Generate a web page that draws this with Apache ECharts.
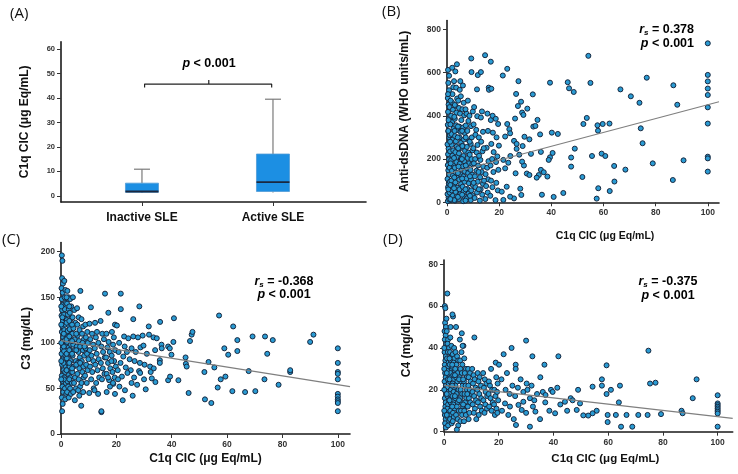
<!DOCTYPE html>
<html>
<head>
<meta charset="utf-8" />
<title>C1q CIC and SLE markers</title>
<script src="https://cdn.jsdelivr.net/npm/echarts@6/dist/echarts.min.js"></script>
<style>
html, body { width:100%; height:100%; margin:0; background:#fff; }
#main { width:738px; height:474px; }
</style>
</head>
<body>
<div id="main"></div>
<script>
// ---- panel A : box plot ----
var groups = ['Inactive SLE', 'Active SLE'];
// [position, low whisker, Q1, median, Q3, high whisker]
var boxStats = [[1, 1.2, 1.5, 1.8, 5.2, 10.9], [2, 1.4, 1.8, 5.6, 17.1, 39.5]];
var bracket = [[1.02, 44.3], [1.02, 45.7], [1.99, 45.7], [1.99, 44.3]];
var bracketTip = [[1.51, 45.7], [1.51, 47.3]];

// tick labels
var ticksA = [0, 10, 20, 30, 40, 50, 60];
var ticksCic = [0, 20, 40, 60, 80, 100];
var ticksDna = [0, 200, 400, 600, 800];
var ticksC3 = [0, 50, 100, 150, 200];
var ticksC4 = [0, 20, 40, 60, 80];

// ---- panel B : anti-dsDNA vs C1q CIC ----
var dnaCore = [
  [0.3,5],[0.6,22],[0.2,38],[0.8,52],[0.4,70],[0.7,88],[0.2,108],[0.9,128],[0.5,148],[0.3,172],[0.8,198],[0.4,222],[0.6,248],[0.2,268],[0.9,298],[0.5,328],[0.3,358],[0.7,388],[0.4,418],[0.6,452],[0.3,482],[0.8,518],[0.5,552],[0.4,612],[0.9,12],[1.0,45],[1.1,95],[1.0,160],[1.2,235],[1.1,310],[1.0,440],
  [1.6,10],[2.2,30],[1.8,55],[2.4,76],[1.7,100],[2.3,124],[1.9,146],[2.5,170],[1.6,194],[2.1,216],[2.4,240],[1.8,266],[2.2,290],[1.7,316],[2.5,340],[2.0,372],[1.6,400],[2.3,428],[1.9,462],[2.1,500],[2.4,532],[2.0,622],
  [3.1,8],[3.7,28],[3.3,48],[3.9,68],[3.2,92],[3.8,114],[3.4,138],[3.0,160],[3.6,186],[3.9,210],[3.2,232],[3.7,258],[3.4,282],[3.1,306],[3.8,334],[3.5,356],[3.0,386],[3.6,414],[3.3,446],[3.9,480],[3.5,530],[3.2,605],[3.8,638],
  [4.6,15],[5.2,40],[4.8,60],[5.4,85],[4.7,105],[5.1,130],[5.5,155],[4.9,178],[5.3,200],[4.6,226],[5.0,250],[5.4,276],[4.8,300],[5.2,326],[4.7,350],[5.5,380],[5.0,410],[4.6,436],[5.3,490],[4.9,520],[5.1,560],
  [6.2,5],[6.8,25],[6.4,50],[6.0,72],[6.7,95],[6.3,120],[6.9,142],[6.1,166],[6.6,190],[6.3,214],[6.9,238],[6.0,262],[6.5,290],[6.8,320],[6.2,346],[6.6,402],[6.4,460],[6.1,540],
  [7.6,18],[8.3,40],[7.8,62],[8.4,88],[7.5,110],[8.1,135],[7.7,158],[8.5,180],[7.9,205],[8.2,230],[7.6,256],[8.4,286],[7.8,330],[8.2,376],[7.5,410],[8.0,470],
  [9.1,10],[9.8,32],[9.3,55],[9.9,80],[9.2,105],[9.6,128],[9.0,150],[9.7,176],[9.4,200],[9.8,240],[9.1,270],[9.5,300],[9.2,352],[9.9,420],[9.4,602],[9.3,665],
  [10.6,20],[11.5,45],[10.9,70],[11.8,95],[10.7,120],[11.3,146],[11.9,170],[10.8,200],[11.4,230],[11.7,265],[10.9,312],[11.2,335],[11.6,398],[11.5,522],[11.8,588],
  [12.6,8],[13.5,35],[12.9,60],[13.8,85],[12.7,116],[13.3,140],[13.9,165],[12.8,196],[13.6,236],[13.1,280],[13.8,326],[13.0,392],[13.4,420],[13.0,602],[14.6,680],
  [14.7,15],[15.6,45],[15.0,75],[15.8,106],[14.8,130],[15.4,160],[15.9,190],[15.2,252],[15.7,330],[15.5,410],[16.0,530],[16.8,650],
  [16.6,30],[17.4,70],[16.9,100],[17.8,140],[16.7,170],[17.3,200],[17.9,232],[17.0,270],[17.6,322],[16.8,380],[17.5,400],[16.1,520],[17.0,525],
  [18.6,10],[19.5,55],[18.9,90],[19.7,150],[18.8,186],[19.3,212],[19.9,262],[19.0,300],[19.6,362],[18.7,386],
  [0.5,60],[1.3,80],[2.8,115],[4.2,135],[1.4,180],[2.7,205],[4.3,250],[1.2,280],[2.9,330],[4.1,300],[5.8,110],[5.7,200],[7.1,60],[7.2,170],[8.8,120],[8.7,220],[10.2,90],[10.3,180],[12.2,60],[12.1,140],[2.8,10],[4.2,25],[5.8,35],[7.1,8],[1.3,15],[2.7,65],[4.4,165],[5.9,260],[7.2,300],[0.5,330],[8.8,30],[10.1,250],[12.3,215],[14.2,100],[14.1,250],[0.6,380],[1.3,360],[2.8,395],[4.2,350],[5.8,330],[7.2,355],[8.7,280],[10.2,360],[12.2,300],[3.0,450],[1.4,470],[0.4,500],[4.3,470],[2.7,560],[0.8,585],[5.9,430],[7.1,430],[8.6,400],[10.4,440]
];
var dnaSpread = [
  [21.4,586],[23.1,617],[27.4,560],[26.5,501],[28.4,465],[27.2,445],[30.8,433],[32.9,499],[28.8,415],[29.3,404],[26.1,387],[23.1,362],[23.9,338],[24.2,319],[22.3,304],[33.1,350],[33.9,353],[34.7,381],[40.2,322],[42.5,316],[35.7,314],[31.6,291],[29.7,303],[25.7,284],[26.7,270],[29.0,260],[32.2,224],[36.0,233],[40.5,228],[39.5,208],[39.0,196],[47.6,207],[47.6,165],[49.0,248],[29.5,170],[28.8,188],[27.7,220],[26.7,247],[24.3,214],[23.5,183],[21.6,196],[22.3,157],[26.3,134],[30.6,133],[31.6,126],[35.2,126],[36.0,150],[34.4,114],[38.5,119],[37.1,139],[28.1,63],[28.5,34],[25.7,18],[36.4,35],[40.9,25],[44.6,43],[22.9,72],[21.0,49],[24.2,26],[21.6,11],
  [46.3,555],[46.8,527],[48.6,510],[54.2,677],[55.0,552],[39.5,553],[66.5,522],[70.5,490],[76.6,576],[86.8,541],[73.8,460],[88.3,451],[52.3,362],[53.6,390],[57.7,356],[57.9,331],[59.7,362],[62.3,364],[55.6,214],[59.3,225],[60.7,214],[64.1,168],[64.2,96],[68.4,151],[74.3,342],[75.0,273],[78.9,180],[86.6,103],[90.7,194],[51.9,117],[58.0,65],[57.4,17],[62.4,52],
  [100,735],[100,589],[100,559],[100,526],[100,496],[100,439],[100,364],[100,211],[100,203],[100,142]
];
var dnaFit = [[0, 131], [104.3, 465]];

// ---- panel C : C3 vs C1q CIC ----
var c3Core = [
  [0.3,196],[0.5,190],[0.4,171],[0.7,165],[0.2,160],[0.6,155],[0.3,148],[0.8,142],[0.4,136],[0.2,130],[0.7,124],[0.5,118],[0.3,112],[0.8,106],[0.4,100],[0.6,94],[0.2,88],[0.7,82],[0.4,76],[0.9,70],[0.3,64],[0.6,58],[0.5,52],[0.8,46],[0.3,40],[0.6,33],[0.4,25],
  [1.2,168],[1.6,158],[1.3,150],[1.8,144],[1.4,137],[1.1,131],[1.7,126],[1.5,120],[1.2,114],[1.9,109],[1.4,103],[1.7,97],[1.1,91],[1.6,86],[1.3,80],[1.8,74],[1.5,68],[1.2,62],[1.7,56],[1.4,50],[1.9,44],[1.5,38],
  [2.3,157],[2.7,150],[2.2,143],[2.8,137],[2.5,131],[2.1,125],[2.9,119],[2.4,113],[2.6,107],[2.2,101],[2.8,95],[2.5,89],[2.1,83],[2.7,77],[2.4,71],[2.9,65],[2.3,58],[2.6,52],[2.2,46],[2.8,40],
  [3.3,148],[3.7,140],[3.2,133],[3.8,127],[3.5,121],[3.1,115],[3.9,110],[3.4,104],[3.6,98],[3.2,92],[3.8,86],[3.5,80],[3.1,74],[3.7,68],[3.4,62],[3.9,56],[3.3,50],[3.6,44],
  [4.3,150],[4.8,136],[4.2,128],[5.2,122],[4.5,116],[4.1,110],[5.0,104],[4.4,98],[4.9,92],[4.2,86],[5.3,80],[4.6,74],[4.1,68],[5.1,62],[4.7,56],[5.4,50],[4.4,46],[5.0,37],
  [5.8,138],[6.4,128],[5.9,120],[6.7,114],[6.0,108],[6.5,102],[5.7,96],[6.3,90],[6.8,84],[6.1,78],[6.6,72],[5.9,66],[6.4,60],[6.9,52],[6.2,48],[7.0,157],[6.6,42],
  [7.4,126],[8.0,118],[7.6,110],[8.3,104],[7.3,98],[7.9,92],[8.4,86],[7.5,80],[8.1,74],[7.7,68],[8.2,62],[7.4,56],[8.0,46],[7.3,31],
  [8.8,120],[9.5,112],[9.0,106],[9.7,100],[8.9,94],[9.4,88],[9.9,82],[9.1,76],[9.6,70],[8.7,64],[9.3,56],
  [10.3,121],[10.8,139],[11.2,110],[10.6,104],[11.6,98],[10.4,92],[11.0,86],[11.7,80],[10.5,74],[11.3,68],[10.9,60],[11.8,50],[10.2,45],
  [12.3,122],[13.0,112],[12.6,106],[13.5,100],[12.2,94],[12.9,88],[13.6,82],[12.4,76],[13.2,70],[13.8,62],[12.7,56],[13.4,44],[12.1,48],
  [14.3,124],[14.9,110],[15.5,104],[14.6,96],[15.2,90],[15.8,84],[14.4,78],[15.1,72],[15.7,66],[14.8,60],[14.6,24],
  [16.4,110],[17.2,101],[16.8,95],[17.6,90],[16.3,84],[17.0,78],[17.8,72],[16.5,66],[17.4,59],[18.4,112],[19.1,106],[18.8,98],[19.6,92],[18.3,86],[19.2,80],[19.8,74],[18.6,68],[19.4,62],[18.9,55],[19.5,120],
  [0.5,128],[1.0,110],[1.0,96],[0.9,78],[1.0,60],[2.0,150],[2.0,122],[2.0,104],[2.0,88],[2.0,70],[3.0,140],[3.0,124],[3.0,107],[3.0,92],[3.0,78],[3.0,60],[4.0,120],[4.0,102],[4.0,88],[4.0,72],[5.5,110],[5.5,92],[5.5,76],[6.9,96],[6.9,78],[7.8,100],[8.5,96],[0.1,120],[0.1,100],[0.1,80],[0.1,140],[0.1,60]
];
var c3Spread = [
  [15.9,154],[21.6,154],[21.6,137],[17.1,133],[28.3,140],[26.1,126],[31.7,118],[35.8,123],[20.2,119],[22.8,107],[24.3,105],[26.1,107],[27.8,106],[29.5,108],[31.8,109],[33.4,106],[34.6,105],[28.7,95],[29.8,97],[21.0,100],[23.0,96],[25.5,94],[27.0,90],[20.8,90],[22.5,85],[24.8,82],[26.6,80],[28.5,78],[30.2,76],[32.2,74],[33.5,72],[21.5,78],[23.4,73],[25.2,70],[28.2,69],[28.6,67],[24.0,67],[22.0,63],[20.6,60],[26.4,62],[32.4,68],[32.8,61],[34.1,57],[30.6,49],[25.5,56],[23.1,48],[21.1,52],[17.7,52],[18.8,56],[25.9,42],[22.3,37],[14.6,25],[16.5,46],[19.5,44],[27.5,54],[30.0,60],[20.5,70],[17.0,62],[18.2,80],[23.8,90],[31.0,88],[34.0,92],[35.7,81],[35.7,78],
  [36.3,98],[36.4,94],[38.7,96],[39.3,94],[39.9,87],[40.6,101],[40.8,127],[38.7,59],[39.4,63],[42.4,59],[45.0,84],[45.1,77],[45.4,74],[46.1,45],[46.6,102],[47.2,109],[47.5,112],[51.8,68],[52.0,38],[53.3,79],[54.3,34],[55.4,73],[56.6,51],[57.1,130],[57.7,60],[59.0,94],[59.4,63],[60.4,87],[61.9,47],[62.2,118],[63.7,103],[63.7,91],[66.5,46],[67.8,69],[69.2,107],[70.2,47],[73.5,60],[73.7,107],[74.5,88],[76.5,103],[78.6,54],[82.8,68],[82.8,70],[90.0,101],[91.2,109],
  [100,94],[100,78],[100,68],[100,66],[100,60],[100,44],[100,41],[100,38],[100,36],[100,34],[100,25]
];
var c3Fit = [[0, 102.5], [104.4, 51.9]];

// ---- panel D : C4 vs C1q CIC ----
var c4Core = [
  [0.3,60],[0.5,59],[0.4,52],[0.7,50],[0.2,48],[0.6,46],[0.3,44],[0.8,42],[0.4,40],[0.2,38],[0.7,36],[0.5,34],[0.3,32],[0.8,30],[0.4,28],[0.6,26],[0.2,24],[0.7,22],[0.4,20],[0.9,18],[0.3,16],[0.6,14],[0.5,12],[0.8,10],[0.3,8],[0.6,6],[0.4,4],[0.7,2],
  [1.2,66],[1.5,44],[1.3,42],[1.8,40],[1.4,38],[1.1,35],[1.7,33],[1.5,31],[1.2,29],[1.9,27],[1.4,25],[1.7,23],[1.1,21],[1.6,19],[1.3,17],[1.8,15],[1.5,13],[1.2,11],[1.7,9],[1.4,7],[1.9,5],[1.5,3],
  [2.3,45],[2.7,41],[2.2,38],[2.8,36],[2.5,34],[2.1,32],[2.9,30],[2.4,28],[2.6,26],[2.2,24],[2.8,22],[2.5,20],[2.1,18],[2.7,16],[2.4,14],[2.9,12],[2.3,10],[2.6,8],[2.2,6],[2.8,4],
  [3.3,55],[3.1,56],[3.7,40],[3.2,37],[3.8,35],[3.5,33],[3.1,31],[3.9,29],[3.4,27],[3.6,25],[3.2,23],[3.8,21],[3.5,19],[3.1,17],[3.7,15],[3.4,13],[3.9,11],[3.3,9],[3.6,7],[3.2,5],
  [4.4,50],[4.2,38],[4.8,36],[5.2,34],[4.5,32],[4.1,30],[5.0,28],[4.4,26],[4.9,24],[4.2,22],[5.3,20],[4.6,18],[4.1,16],[5.1,14],[4.7,12],[5.4,10],[4.4,8],[5.0,6],[5.2,3],[4.7,1],
  [5.8,44],[6.5,47],[6.4,38],[5.9,34],[6.7,32],[6.0,30],[6.5,28],[5.7,26],[6.3,24],[6.8,22],[6.1,20],[6.6,18],[5.9,16],[6.4,14],[6.9,12],[6.2,10],[6.6,8],[6.0,5],
  [7.1,41],[6.8,41],[7.4,35],[8.0,30],[7.6,28],[8.3,26],[7.3,24],[7.9,22],[8.4,20],[7.5,18],[8.1,16],[7.7,14],[8.2,12],[7.4,10],[8.0,8],[7.3,5],
  [8.8,30],[9.5,28],[9.0,26],[9.7,24],[8.9,22],[9.4,20],[9.9,18],[9.1,16],[9.6,14],[8.7,12],[9.3,9],[9.0,6],
  [11.1,45],[10.3,30],[10.8,27],[11.2,25],[10.6,23],[11.6,21],[10.4,19],[11.0,17],[11.7,15],[10.5,13],[11.3,11],[10.9,9],[11.8,6],
  [12.3,28],[13.0,26],[12.6,24],[13.5,22],[12.2,20],[12.9,18],[13.6,16],[12.4,14],[13.2,12],[13.8,10],[12.7,8],
  [14.3,28],[14.9,25],[15.5,23],[14.6,21],[15.2,19],[15.8,17],[14.4,15],[15.1,13],[15.7,11],[14.8,9],
  [16.4,24],[17.2,30],[16.8,22],[17.6,20],[16.3,18],[17.0,16],[17.8,14],[16.5,12],[17.4,10],[18.4,20],[19.1,26],[18.8,17],[19.6,23],[18.3,13],[19.2,11],[19.8,15],[18.6,8],[19.4,19],[18.9,33],[19.5,9],
  [0.1,30],[0.1,20],[0.1,10],[0.1,40],[1.0,28],[1.0,18],[1.0,8],[2.0,35],[2.0,25],[2.0,15],[3.0,32],[3.0,22],[3.0,12],[4.0,27],[4.0,17],[5.5,25],[5.5,15],[7.0,25],[7.0,13],[8.5,18],[1.0,48],[2.4,50],[0.9,54]
];
var c4Spread = [
  [21.8,37],[20.1,32],[24.7,40],[26.2,32],[26.2,30],[30.0,43.5],[32.3,36],[36.7,32],[41.8,36],[35.2,26],[30.2,23],[36.1,19],[41.4,21],[39.1,20],[39.7,19],[37.1,17.5],[49.0,20],[54.3,21.5],[61.0,20],[57.7,25],[64.3,22],[63.9,14],[59.4,18],[57.7,22],[59.4,31.7],[74.7,38.7],[75.3,23],[77.3,23.4],[92.3,25],[90.9,16],[86.8,10],[87.2,8.8],[79.3,8.4],[74.4,8],[71.0,8],[66.7,8],[62.8,8],[59.8,8],[59.8,4.6],[64.7,2.4],[68.8,2.4],[55.8,10],[54.3,8.8],[52.7,7.7],[50.9,7.8],[48.5,10.4],[49.7,13.5],[46.3,16],[44.2,14.3],[40.6,8.8],[35.1,6],[31.4,2.4],[26.3,3.2],[33.4,9.6],[31.4,16],[29.0,14.3],[28.4,10.4],[27.2,12.8],[24.1,12],[22.3,13.5],
  [21.0,25],[22.5,20],[23.0,28],[24.0,18],[25.0,22],[26.0,17],[27.0,21],[28.0,25],[29.0,19],[30.5,20],[32.0,22],[33.0,15],[34.0,18],[23.5,8],[25.5,6],[21.2,10],[30.0,9],[32.5,12],[37.0,14],[38.5,10],[42.5,13],[45.0,10],[47.0,15],
  [100,17.4],[100,13.5],[100,12.7],[100,11.9],[100,11.1],[100,10.3],[100,9.5],[100,8.7],[100,2.4]
];
var c4Fit = [[0, 22.1], [105.5, 6.4]];

var FONT = 'Liberation Sans, Arial, sans-serif';
var chart = echarts.init(document.getElementById('main'));

function axis(grid, min, max, ticks, name, nameGap) {
    return {
        type: 'value', gridIndex: grid, min: min, max: max,
        splitLine: { show: false },
        axisLine: { show: true, onZero: false, lineStyle: { color: '#1a1a1a', width: 1.6 } },
        axisTick: { show: true, length: 4, customValues: ticks, lineStyle: { color: '#333', width: 1 } },
        axisLabel: { customValues: ticks, color: '#333', fontFamily: FONT, fontWeight: 'bold', fontSize: 8.5, margin: 6 },
        name: name, nameLocation: 'middle', nameGap: nameGap,
        nameTextStyle: { color: '#111', fontFamily: FONT, fontWeight: 'bold', fontSize: 12 }
    };
}

var xA = axis(0, 0.382, 2.71, [1, 2], '', 0);
xA.axisLabel.fontSize = 12;
xA.axisLabel.color = '#111';
xA.axisLabel.margin = 10;
xA.axisLabel.formatter = function (v) { return groups[Math.round(v) - 1]; };
var yA = axis(0, -2.5, 63, ticksA, 'C1q CIC (μg Eq/mL)', 30);
yA.axisLabel.fontSize = 7.5;

var xB = axis(1, 0, 104.3, ticksCic, 'C1q CIC (μg Eq/mL)', 28);
xB.nameTextStyle.fontSize = 10.5;
xB.nameTextStyle.padding = [0, 0, 0, 44];
var yB = axis(1, 0, 840, ticksDna, 'Anti-dsDNA (WHO units/mL)', 36);

var xC = axis(2, 0, 104.4, ticksCic, 'C1q CIC (μg Eq/mL)', 19);
var yC = axis(2, 0, 210, ticksC3, 'C3 (mg/dL)', 28);

var xD = axis(3, 0, 105.5, ticksCic, 'C1q CIC (μg Eq/mL)', 21);
xD.nameTextStyle.fontSize = 11.5;
xD.nameTextStyle.padding = [0, 0, 0, 34];
var yD = axis(3, 0, 82, ticksC4, 'C4 (mg/dL)', 31);

function dots(i, data) {
    return {
        type: 'scatter', xAxisIndex: i, yAxisIndex: i, data: data,
        symbol: 'circle', symbolSize: 5,
        itemStyle: { color: '#2a9bd3', borderColor: '#172840', borderWidth: 1, opacity: 1 },
        z: 2
    };
}
function fit(i, data) {
    return {
        type: 'line', xAxisIndex: i, yAxisIndex: i, data: data,
        symbol: 'none', lineStyle: { color: '#7f7f7f', width: 1.2 }, z: 3
    };
}

function boxItem(params, api) {
    var x = api.value(0);
    var lo = api.coord([x, api.value(1)]);
    var q1 = api.coord([x, api.value(2)]);
    var md = api.coord([x, api.value(3)]);
    var q3 = api.coord([x, api.value(4)]);
    var hi = api.coord([x, api.value(5)]);
    var w = 33, cap = 16;
    var whisk = { stroke: '#7a7a7a', lineWidth: 1.2 };
    return {
        type: 'group',
        children: [
            { type: 'line', shape: { x1: hi[0], y1: hi[1], x2: q3[0], y2: q3[1] }, style: whisk },
            { type: 'line', shape: { x1: hi[0] - cap / 2, y1: hi[1], x2: hi[0] + cap / 2, y2: hi[1] }, style: whisk },
            { type: 'line', shape: { x1: lo[0], y1: lo[1], x2: q1[0], y2: q1[1] }, style: whisk },
            { type: 'rect', shape: { x: q3[0] - w / 2, y: q3[1], width: w, height: q1[1] - q3[1] },
              style: { fill: '#1c8fe3', stroke: '#4f9bd6', lineWidth: 0.8 } },
            { type: 'line', shape: { x1: md[0] - w / 2, y1: md[1], x2: md[0] + w / 2, y2: md[1] },
              style: { stroke: '#1a2840', lineWidth: 1.8 } }
        ]
    };
}

var rich = {
    i: { fontFamily: FONT, fontWeight: 'bold', fontStyle: 'italic', fontSize: 12.5, color: '#111' },
    s: { fontFamily: FONT, fontWeight: 'bold', fontStyle: 'italic', fontSize: 8, color: '#111', padding: [6, 0, 0, 0] },
    n: { fontFamily: FONT, fontWeight: 'bold', fontSize: 12.5, color: '#111' }
};
function note(x, y, align, text) {
    return { type: 'text', x: x, y: y, style: { text: text, rich: rich, align: align, verticalAlign: 'middle' } };
}
function letter(x, y, t) {
    return { type: 'text', x: x, y: y, style: { text: t, font: '15px "Open Sans", sans-serif', fill: '#111' } };
}

chart.setOption({
    animation: false,
    backgroundColor: '#fff',
    grid: [
        { left: 61, top: 41.7, width: 305, height: 160.3, outerBoundsMode: 'none' },
        { left: 447, top: 20.6, width: 272, height: 181.7, outerBoundsMode: 'none' },
        { left: 61, top: 242.6, width: 289, height: 191.4, outerBoundsMode: 'none' },
        { left: 444, top: 260, width: 288.7, height: 171.7, outerBoundsMode: 'none' }
    ],
    xAxis: [xA, xB, xC, xD],
    yAxis: [yA, yB, yC, yD],
    graphic: [
        letter(10, 6, '(A)'), letter(382, 4, '(B)'), letter(2, 232, '(C)'), letter(383, 232, '(D)'),
        note(209, 64, 'center', '{i|p}{n| < 0.001}'),
        note(694, 30, 'right', '{i|r}{s|s}{n| = 0.378}'),
        note(694, 44, 'right', '{i|p}{n| < 0.001}'),
        note(284, 282, 'center', '{i|r}{s|s}{n| = -0.368}'),
        note(284, 295, 'center', '{i|p}{n| < 0.001}'),
        note(668, 282, 'center', '{i|r}{s|s}{n| = -0.375}'),
        note(668, 296, 'center', '{i|p}{n| < 0.001}')
    ],
    series: [
        { type: 'custom', xAxisIndex: 0, yAxisIndex: 0, data: boxStats, renderItem: boxItem,
          encode: { x: 0, y: [1, 2, 3, 4, 5] } },
        { type: 'line', xAxisIndex: 0, yAxisIndex: 0, data: bracket, symbol: 'none',
          lineStyle: { color: '#222', width: 1.2 } },
        { type: 'line', xAxisIndex: 0, yAxisIndex: 0, data: bracketTip, symbol: 'none',
          lineStyle: { color: '#222', width: 1.2 } },
        dots(1, dnaCore.concat(dnaSpread)), fit(1, dnaFit),
        dots(2, c3Core.concat(c3Spread)), fit(2, c3Fit),
        dots(3, c4Core.concat(c4Spread)), fit(3, c4Fit)
    ]
});
</script>
</body>
</html>
